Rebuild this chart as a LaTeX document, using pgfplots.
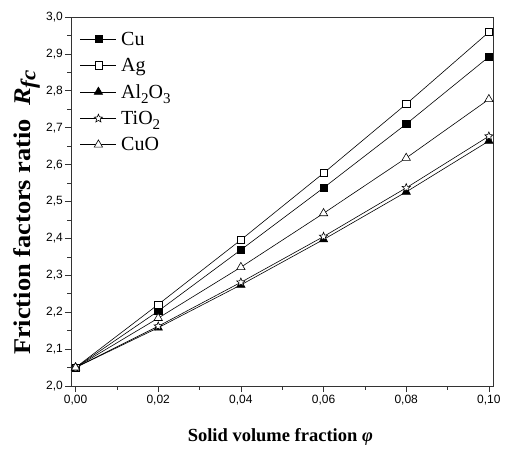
\documentclass[border=0pt]{standalone}
\usepackage{amsmath}
\usepackage{fontspec}
\setmainfont{Liberation Serif}
\setsansfont{Liberation Sans}
\usepackage{pgfplots}
\pgfplotsset{compat=1.18}

% open five-point star
\pgfdeclareplotmark{ostar}{%
  \pgfpathmoveto{\pgfpointpolar{90}{\pgfplotmarksize}}%
  \pgfpathlineto{\pgfpointpolar{126}{0.45\pgfplotmarksize}}%
  \pgfpathlineto{\pgfpointpolar{162}{\pgfplotmarksize}}%
  \pgfpathlineto{\pgfpointpolar{198}{0.45\pgfplotmarksize}}%
  \pgfpathlineto{\pgfpointpolar{234}{\pgfplotmarksize}}%
  \pgfpathlineto{\pgfpointpolar{270}{0.45\pgfplotmarksize}}%
  \pgfpathlineto{\pgfpointpolar{306}{\pgfplotmarksize}}%
  \pgfpathlineto{\pgfpointpolar{342}{0.45\pgfplotmarksize}}%
  \pgfpathlineto{\pgfpointpolar{18}{\pgfplotmarksize}}%
  \pgfpathlineto{\pgfpointpolar{54}{0.45\pgfplotmarksize}}%
  \pgfpathclose
  \pgfusepathqfillstroke}

\newcommand{\sub}[1]{\raisebox{-0.28em}{\fontsize{15}{15}\selectfont #1}}

\begin{document}
\begin{tikzpicture}
\begin{axis}[
  scale only axis, width=422pt, height=369pt,
  xmin=-0.0011, xmax=0.101, ymin=2.0, ymax=3.0,
  xtick={0,0.02,...,0.1}, minor x tick num=1,
  ytick={2.0,2.1,...,3.0}, minor y tick num=1,
  tick align=outside, tick pos=left,
  major tick length=6pt, minor tick length=3.5pt,
  axis line style={line width=0.9pt, black!80},
  every tick/.style={black!80, line width=0.7pt},
  /pgf/number format/assume math mode=true,
  ticklabel style={font=\sffamily\fontsize{12}{14}\selectfont},
  xticklabel style={/pgf/number format/.cd, fixed, fixed zerofill, precision=2, use comma},
  yticklabel style={inner sep=2pt, /pgf/number format/.cd, fixed, fixed zerofill, precision=1, use comma},
  xlabel={\textbf{Solid volume fraction \textit{φ}}},
  ylabel={\textbf{Friction factors ratio}\ \ \textbf{\textit{R}}\raisebox{-0.2em}{\fontsize{21}{21}\selectfont\textbf{\textit{fc}}}},
  xlabel style={font=\fontsize{18.5}{21}\selectfont, at={(axis description cs:0.496,-0.138)}, anchor=center},
  ylabel style={font=\fontsize{24}{27}\selectfont, at={(axis description cs:-0.105,0.47)}, anchor=center, xscale=1.1},
  legend style={draw=none, fill=none, at={(axis description cs:0.014,0.97)}, anchor=north west,
    font=\fontsize{20}{22}\selectfont, row sep=8.5pt, column sep=3pt, nodes={inner sep=1.5pt}},
  legend cell align=left,
  legend image code/.code={\draw[mark repeat=2,mark phase=2] plot coordinates {(0pt,0pt)(18pt,0pt)(36pt,0pt)};},
  every axis plot/.append style={black, line width=0.6pt, mark size=3.6pt, mark options={solid, line width=0.6pt}},
]
\addplot[mark=square*, mark options={fill=black}] coordinates {(0,2.05) (0.02,2.203) (0.04,2.369) (0.06,2.537) (0.08,2.710) (0.1,2.892)};
\addlegendentry{Cu}
\addplot[mark=square*, mark options={fill=white}] coordinates {(0,2.05) (0.02,2.221) (0.04,2.396) (0.06,2.577) (0.08,2.764) (0.1,2.959)};
\addlegendentry{Ag}
\addplot[mark=triangle*, mark size=4.8pt, mark options={fill=black}] coordinates {(0,2.05) (0.02,2.158) (0.04,2.274) (0.06,2.397) (0.08,2.526) (0.1,2.664)};
\addlegendentry{Al\sub{2}O\sub{3}}
\addplot[mark=ostar, mark size=4.3pt, mark options={fill=white}] coordinates {(0,2.05) (0.02,2.162) (0.04,2.281) (0.06,2.405) (0.08,2.537) (0.1,2.677)};
\addlegendentry{TiO\sub{2}}
\addplot[mark=triangle*, mark size=4.8pt, mark options={fill=white}] coordinates {(0,2.05) (0.02,2.184) (0.04,2.322) (0.06,2.468) (0.08,2.618) (0.1,2.777)};
\addlegendentry{CuO}
\end{axis}
\pgfresetboundingbox
\path[use as bounding box] ([xshift=-71pt,yshift=-62pt]current axis.south west) rectangle ([xshift=12pt,yshift=17pt]current axis.north east);
\end{tikzpicture}
\end{document}
